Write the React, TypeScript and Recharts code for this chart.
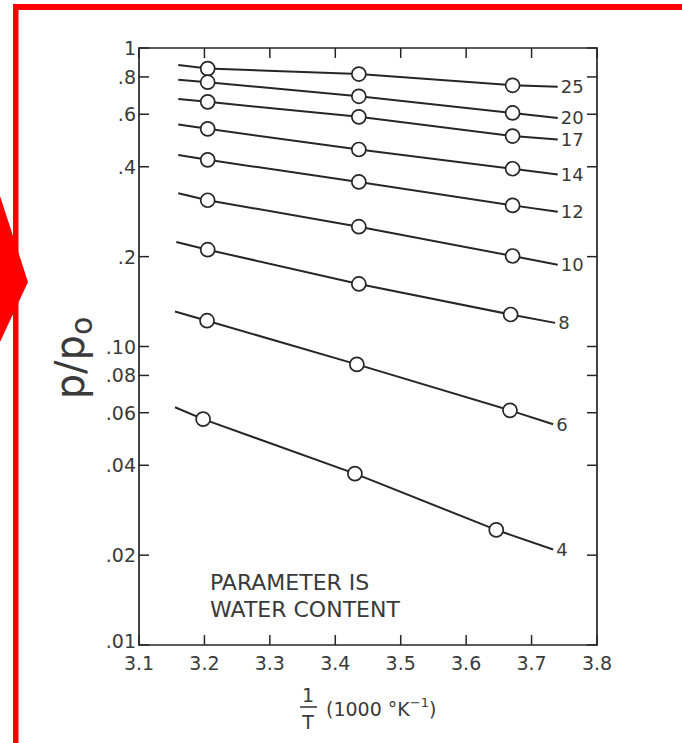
import React from 'react';
import { LineChart, Line, XAxis, YAxis, ReferenceArea } from 'recharts';

// Relative pressure p/po against reciprocal temperature, one line per water content.
const waterContent = [25, 20, 17, 14, 12, 10, 8, 6, 4];

// 1/T positions (1000 K^-1): line start, three measured points, line end
const xUpper = [3.16, 3.205, 3.436, 3.671, 3.74];
const x8 = [3.157, 3.205, 3.436, 3.668, 3.736];
const x6 = [3.155, 3.204, 3.433, 3.667, 3.733];
const x4 = [3.155, 3.198, 3.43, 3.646, 3.733];

// p/po values along each line
const p25 = [0.877, 0.853, 0.818, 0.75, 0.741];
const p20 = [0.783, 0.768, 0.689, 0.606, 0.583];
const p17 = [0.675, 0.66, 0.588, 0.507, 0.494];
const p14 = [0.554, 0.536, 0.457, 0.394, 0.377];
const p12 = [0.438, 0.422, 0.356, 0.297, 0.283];
const p10 = [0.326, 0.309, 0.252, 0.201, 0.188];
const p8 = [0.224, 0.211, 0.162, 0.128, 0.12];
const p6 = [0.131, 0.122, 0.0871, 0.0611, 0.0549];
const p4 = [0.0626, 0.0571, 0.0375, 0.0243, 0.0209];

const xTicks = [3.1, 3.2, 3.3, 3.4, 3.5, 3.6, 3.7, 3.8];
const xTickLabels = ['3.1', '3.2', '3.3', '3.4', '3.5', '3.6', '3.7', '3.8'];
const yTicks = [0.01, 0.02, 0.04, 0.06, 0.08, 0.1, 0.2, 0.4, 0.6, 0.8, 1];
const yTickLabels = ['.01', '.02', '.04', '.06', '.08', '.10', '.2', '.4', '.6', '.8', '1'];

const xSets = [xUpper, xUpper, xUpper, xUpper, xUpper, xUpper, x8, x6, x4];
const pSets = [p25, p20, p17, p14, p12, p10, p8, p6, p4];

const series = waterContent.map((w, i) => ({
  name: String(w),
  points: xSets[i].map((x, j) => ({ x, y: pSets[i][j] })),
}));

const W = 682;
const H = 743;
const AXIS_W = 1;
const M = { top: 48, right: 85, bottom: 98 - AXIS_W, left: 139 - AXIS_W };
const PLOT_RIGHT = W - M.right;
const PLOT_TOP = M.top;
const TICK_LEN = 10;
const INK = '#262626';
const TEXT = '#3a3a3a';
const FONT = '"DejaVu Sans", Verdana, sans-serif';

const findIdx = (arr: number[], v: number) =>
  arr.findIndex((t) => Math.abs(t - v) < 1e-6 * Math.max(1e-3, Math.abs(t)));

const renderYTick = (props: any) => {
  const { x, y, payload, index } = props;
  const i = findIdx(yTicks, Number(payload.value));
  // the lowest label sits just above the corner so it clears the x labels
  const lift = i === 0 ? -4 : 0;
  return (
    <g key={`yt${index}`}>
      <line x1={x} x2={x + TICK_LEN} y1={y} y2={y} stroke={INK} strokeWidth={1.5} />
      <line x1={PLOT_RIGHT - TICK_LEN} x2={PLOT_RIGHT} y1={y} y2={y} stroke={INK} strokeWidth={1.5} />
      <text
        x={x - 3}
        y={y + lift}
        textAnchor="end"
        dominantBaseline="central"
        fontFamily={FONT}
        fontSize={19}
        fill={TEXT}
      >
        {i >= 0 ? yTickLabels[i] : ''}
      </text>
    </g>
  );
};

const renderXTick = (props: any) => {
  const { x, y, payload, index } = props;
  const i = findIdx(xTicks, Number(payload.value));
  return (
    <g key={`xt${index}`}>
      <line x1={x} x2={x} y1={y} y2={y - TICK_LEN} stroke={INK} strokeWidth={1.5} />
      <line x1={x} x2={x} y1={PLOT_TOP} y2={PLOT_TOP + TICK_LEN} stroke={INK} strokeWidth={1.5} />
      <text x={x} y={y + 25} textAnchor="middle" fontFamily={FONT} fontSize={19} fill={TEXT}>
        {i >= 0 ? xTickLabels[i] : ''}
      </text>
    </g>
  );
};

const makeDot = (props: any) => {
  const { cx, cy, index } = props;
  if (index >= 1 && index <= 3) {
    return <circle key={`d${index}`} cx={cx} cy={cy} r={7} fill="#fff" stroke={INK} strokeWidth={1.7} />;
  }
  return <g key={`d${index}`} />;
};

const makeEndLabel = (name: string, last: number) => (props: any) => {
  const { x, y, index } = props;
  if (index !== last) return <g key={`l${index}`} />;
  return (
    <text key={`l${index}`} x={x + 3} y={y} dominantBaseline="central" fontFamily={FONT} fontSize={18} fill={TEXT}>
      {name}
    </text>
  );
};

export default function App() {
  return (
    <div style={{ position: 'absolute', left: 0, top: 0, width: W, height: H, background: '#fff', overflow: 'hidden' }}>
      <LineChart width={W} height={H} margin={M}>
        <XAxis
          type="number"
          dataKey="x"
          domain={[3.1, 3.8]}
          ticks={xTicks}
          interval={0}
          allowDataOverflow
          axisLine={false}
          tickLine={false}
          tickSize={0}
          tickMargin={0}
          height={AXIS_W}
          tick={renderXTick}
        />
        <YAxis
          type="number"
          scale="log"
          domain={[0.01, 1]}
          ticks={yTicks}
          interval={0}
          allowDataOverflow
          axisLine={false}
          tickLine={false}
          tickSize={0}
          tickMargin={0}
          width={AXIS_W}
          tick={renderYTick}
        />
        <ReferenceArea
          x1={3.1}
          x2={3.8}
          y1={0.01}
          y2={1}
          fill="none"
          fillOpacity={0}
          stroke={INK}
          strokeWidth={1.7}
          ifOverflow="visible"
        />
        {series.map((s) => (
          <Line
            key={s.name}
            data={s.points}
            dataKey="y"
            type="linear"
            stroke={INK}
            strokeWidth={2}
            dot={makeDot}
            activeDot={false}
            label={makeEndLabel(s.name, s.points.length - 1)}
            isAnimationActive={false}
          />
        ))}
      </LineChart>

      <svg width={W} height={H} style={{ position: 'absolute', left: 0, top: 0, pointerEvents: 'none' }}>
        {/* red frame and pointer */}
        <rect x={13} y={4} width={W - 13} height={6} fill="#ff0000" />
        <rect x={13} y={4} width={5.5} height={H - 4} fill="#ff0000" />
        <polygon points="0,196 28,282 0,342" fill="#ff0000" />

        {/* note inside the plot */}
        <text x={210} y={590} fontFamily={FONT} fontSize={22} fill={TEXT}>PARAMETER IS</text>
        <text x={210} y={617} fontFamily={FONT} fontSize={22} fill={TEXT}>WATER CONTENT</text>

        {/* y-axis title */}
        <text transform="translate(84,358) rotate(-90)" textAnchor="middle" fontFamily={FONT} fontSize={40} fill={TEXT}>
          p/p<tspan fontSize={30} dy={8}>o</tspan>
        </text>

        {/* x-axis title */}
        <text x={308} y={702} textAnchor="middle" fontFamily={FONT} fontSize={19} fill={TEXT}>1</text>
        <line x1={300} x2={317} y1={707} y2={707} stroke={TEXT} strokeWidth={1.6} />
        <text x={308} y={729} textAnchor="middle" fontFamily={FONT} fontSize={19} fill={TEXT}>T</text>
        <text x={326} y={716} fontFamily={FONT} fontSize={19} fill={TEXT}>
          (1000 °K<tspan fontSize={13} dy={-9}>−1</tspan>
          <tspan dy={9}>)</tspan>
        </text>
      </svg>
    </div>
  );
}
